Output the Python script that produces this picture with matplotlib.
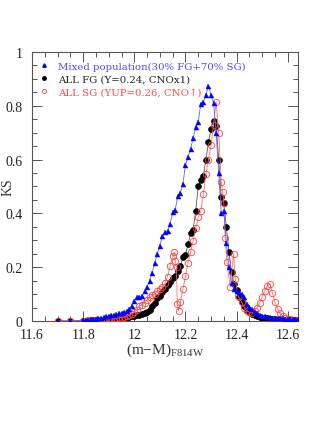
import matplotlib
matplotlib.use("Agg")
import matplotlib.pyplot as plt
from matplotlib.lines import Line2D
from matplotlib.ticker import MultipleLocator

# mixed population (30% FG + 70% SG)
mix_x = [11.70, 11.75, 11.80, 11.81, 11.82, 11.83, 11.84, 11.85, 11.86, 11.87, 11.88, 11.89,
         11.90, 11.91, 11.92, 11.93, 11.94, 11.95, 11.96, 11.97, 11.98, 11.99,
         12.00, 12.01, 12.02, 12.03, 12.04, 12.05, 12.06, 12.07, 12.08, 12.09,
         12.10, 12.11, 12.12, 12.13, 12.14, 12.15, 12.16, 12.17, 12.18, 12.19,
         12.20, 12.21, 12.22, 12.23, 12.24, 12.25, 12.26, 12.27, 12.28, 12.29,
         12.30, 12.31, 12.32, 12.33, 12.34, 12.35, 12.36, 12.37, 12.38, 12.39,
         12.40, 12.41, 12.42, 12.43, 12.44, 12.45, 12.46, 12.47, 12.48, 12.49,
         12.50, 12.51, 12.52, 12.53, 12.54, 12.55, 12.56, 12.57, 12.58, 12.59,
         12.60, 12.61, 12.62, 12.63, 12.64]
mix_ks = [0.0, 0.0, 0.003, 0.004, 0.005, 0.006, 0.007, 0.009, 0.011, 0.013, 0.015, 0.017,
          0.019, 0.021, 0.024, 0.026, 0.029, 0.031, 0.034, 0.038, 0.045, 0.057,
          0.075, 0.089, 0.090, 0.093, 0.110, 0.128, 0.150, 0.180, 0.215, 0.250,
          0.280, 0.315, 0.330, 0.333, 0.360, 0.405, 0.414, 0.465, 0.476, 0.510,
          0.580, 0.610, 0.640, 0.680, 0.720, 0.740, 0.807, 0.815, 0.840, 0.875,
          0.840, 0.810, 0.700, 0.550, 0.400, 0.410, 0.290, 0.200, 0.140, 0.118,
          0.112, 0.106, 0.100, 0.090, 0.063, 0.053, 0.043, 0.035, 0.028, 0.024,
          0.020, 0.017, 0.015, 0.014, 0.012, 0.012, 0.011, 0.010, 0.010, 0.009,
          0.008, 0.008, 0.007, 0.007, 0.006]

# all first generation
fg_x = mix_x
fg_ks = [0.0, 0.0, 0.001, 0.001, 0.001, 0.002, 0.002, 0.002, 0.003, 0.003, 0.004, 0.004,
         0.005, 0.006, 0.007, 0.008, 0.009, 0.010, 0.011, 0.013, 0.015, 0.017,
         0.019, 0.021, 0.024, 0.027, 0.030, 0.034, 0.040, 0.055, 0.068, 0.085,
         0.094, 0.108, 0.120, 0.135, 0.145, 0.160, 0.166, 0.185, 0.205, 0.237,
         0.246, 0.285, 0.326, 0.340, 0.410, 0.500, 0.525, 0.540, 0.600, 0.665,
         0.715, 0.745, 0.726, 0.600, 0.460, 0.440, 0.348, 0.255, 0.181, 0.138,
         0.115, 0.088, 0.070, 0.055, 0.040, 0.032, 0.026, 0.022, 0.018, 0.015,
         0.013, 0.011, 0.010, 0.008, 0.007, 0.006, 0.005, 0.005, 0.004, 0.004,
         0.003, 0.003, 0.002, 0.002, 0.002]

# all second generation
sg_x = [11.70, 11.75, 11.80, 11.81, 11.82, 11.83, 11.84, 11.85, 11.86, 11.87, 11.88, 11.89,
        11.90, 11.91, 11.92, 11.93, 11.94, 11.95, 11.96, 11.97, 11.98, 11.99,
        12.00, 12.01, 12.02, 12.03, 12.04, 12.05, 12.06, 12.07, 12.08, 12.09,
        12.10, 12.11, 12.12, 12.13, 12.14, 12.15, 12.156, 12.16, 12.165, 12.168, 12.173,
        12.18, 12.19, 12.20, 12.21, 12.22, 12.23, 12.24, 12.25, 12.26, 12.27, 12.28, 12.29,
        12.30, 12.31, 12.32, 12.33, 12.34, 12.345, 12.35, 12.355, 12.362, 12.375, 12.388,
        12.395, 12.405, 12.42, 12.43, 12.44, 12.45, 12.46, 12.47, 12.48, 12.49,
        12.50, 12.51, 12.52, 12.53, 12.54, 12.55, 12.56, 12.57, 12.58, 12.59,
        12.60, 12.61, 12.62, 12.63, 12.64]
sg_ks = [0.0, 0.0, 0.001, 0.001, 0.002, 0.002, 0.003, 0.003, 0.004, 0.004, 0.005, 0.006,
         0.007, 0.008, 0.009, 0.010, 0.012, 0.013, 0.015, 0.018, 0.022, 0.027,
         0.033, 0.042, 0.055, 0.060, 0.068, 0.078, 0.088, 0.096, 0.100, 0.110,
         0.118, 0.127, 0.140, 0.165, 0.205, 0.240, 0.255, 0.224, 0.200, 0.063, 0.038,
         0.070, 0.119, 0.166, 0.216, 0.255, 0.298, 0.344, 0.385, 0.410, 0.472, 0.546, 0.600,
         0.654, 0.730, 0.815, 0.700, 0.518, 0.478, 0.440, 0.310, 0.218, 0.125, 0.250,
         0.156, 0.094, 0.070, 0.050, 0.038, 0.032, 0.030, 0.038, 0.050, 0.068,
         0.090, 0.113, 0.131, 0.138, 0.105, 0.070, 0.045, 0.028, 0.018, 0.012,
         0.008, 0.006, 0.005, 0.004, 0.003]

labels = ["Mixed population(30% FG+70% SG)",
          "ALL FG (Y=0.24, CNOx1)",
          "ALL SG (YUP=0.26, CNO\u2191)"]

plt.rcParams["font.family"] = ["Liberation Serif", "DejaVu Serif"]
plt.rcParams["mathtext.fontset"] = "custom"
plt.rcParams["mathtext.rm"] = "Liberation Serif"

fig = plt.figure(figsize=(3.19, 4.27), dpi=100)
ax = fig.add_axes([0.1003, 0.2459, 0.8339, 0.63])

ax.plot(fg_x, fg_ks, color="#555555", lw=0.6, marker="o", ms=4.2,
        mfc="black", mec="black", mew=0.5, zorder=2)
ax.plot(sg_x, sg_ks, color="#ff7070", lw=0.6, marker="o", ms=4.6,
        mfc="none", mec="#ff4040", mew=0.6, zorder=3)
ax.plot(mix_x, mix_ks, color="#6060ff", lw=0.6, marker="^", ms=3.6,
        mfc="#0000ff", mec="#0000ff", mew=0.3, zorder=4)

ax.set_xlim(11.6, 12.64)
ax.set_ylim(0, 1)
ax.xaxis.set_major_locator(MultipleLocator(0.2))
ax.xaxis.set_minor_locator(MultipleLocator(0.05))
ax.yaxis.set_major_locator(MultipleLocator(0.2))
ax.yaxis.set_minor_locator(MultipleLocator(0.05))
ax.set_xticks([11.6, 11.8, 12.0, 12.2, 12.4, 12.6])
ax.set_xticklabels(["11.6", "11.8", "12", "12.2", "12.4", "12.6"])
ax.set_yticks([0, 0.2, 0.4, 0.6, 0.8, 1.0])
ax.set_yticklabels(["0", "0.2", "0.4", "0.6", "0.8", "1"])
ax.tick_params(which="both", direction="in", top=True, right=True,
               color="#555555", labelsize=10, labelcolor="#222222")
ax.tick_params(which="major", length=7, width=0.7)
ax.tick_params(which="minor", length=3.5, width=0.7)
ax.tick_params(axis="x", pad=5)
ax.tick_params(axis="y", pad=7)
for s in ax.spines.values():
    s.set_color("#555555")
    s.set_linewidth(0.8)

ax.set_xlabel(r"$\mathrm{(m{-}M)_{F814W}}$", fontsize=11, color="#333333", labelpad=0)
ax.set_ylabel("KS", fontsize=10, color="#333333")
ax.yaxis.set_label_coords(-0.065, 0.5)

handles = [
    Line2D([], [], ls="none", marker="^", ms=2.5, mfc="#0000ff", mec="#0000ff"),
    Line2D([], [], ls="none", marker="o", ms=2.5, mfc="black", mec="black"),
    Line2D([], [], ls="none", marker="o", ms=3, mfc="none", mec="#ff4040", mew=0.6),
]
leg = ax.legend(handles, labels, loc="upper left", bbox_to_anchor=(0.0, 0.99),
                frameon=False, handlelength=1.0, handletextpad=0.9,
                labelspacing=0.35, borderaxespad=0.3,
                prop={"family": ["DejaVu Serif", "DejaVu Sans"], "size": 7.3})
for txt, c in zip(leg.get_texts(), ["#4848ff", "#222222", "#ff4848"]):
    txt.set_color(c)

fig.savefig("out.png", dpi=100)
